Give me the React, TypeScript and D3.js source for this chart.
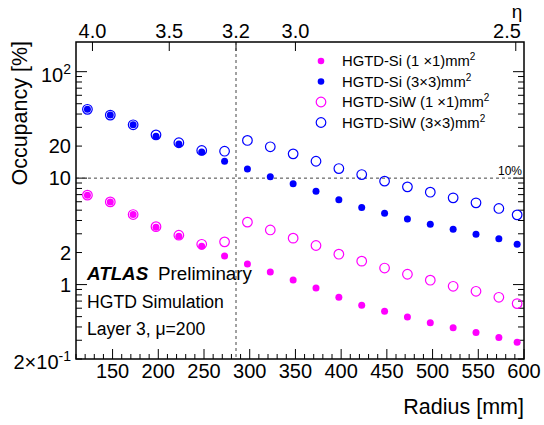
import React, { useEffect, useRef } from 'react';
import * as d3 from 'd3';

// bin centres in radius [mm]
const radius = [122.5, 147.5, 172.5, 197.5, 222.5, 247.5, 272.5, 297.5, 322.5, 347.5,
  372.5, 397.5, 422.5, 447.5, 472.5, 497.5, 522.5, 547.5, 572.5, 592.5];

// occupancy [%]
const si1x1 = [6.92, 5.98, 4.55, 3.46, 2.85, 2.29, 1.86, 1.56, 1.31, 1.105,
  0.929, 0.76, 0.639, 0.561, 0.496, 0.439, 0.394, 0.354, 0.319, 0.287];
const si3x3 = [44.3, 39.1, 31.7, 24.8, 20.9, 17.6, 14.4, 12.2, 10.3, 8.84,
  7.54, 6.25, 5.3, 4.69, 4.14, 3.69, 3.31, 2.97, 2.69, 2.39];
const siw1x1 = [6.92, 5.98, 4.55, 3.5, 2.91, 2.39, 2.52, 3.86, 3.26, 2.73,
  2.33, 1.93, 1.66, 1.43, 1.25, 1.1, 0.964, 0.865, 0.76, 0.663];
const siw3x3 = [44.3, 39.1, 31.7, 25.5, 21.5, 18.2, 17.9, 22.6, 19.7, 16.9,
  14.4, 12.3, 10.8, 9.37, 8.28, 7.38, 6.53, 5.86, 5.19, 4.52];

const seriesNames = ['HGTD-Si (1 ×1)mm', 'HGTD-Si (3×3)mm', 'HGTD-SiW (1 ×1)mm', 'HGTD-SiW (3×3)mm'];
const seriesColors = ['#ff00ff', '#0000ff', '#ff00ff', '#0000ff'];
const seriesFilled = [true, true, false, false];

const xLabelValues = [150, 200, 250, 300, 350, 400, 450, 500, 550, 600];
const yLabelValues = [0.2, 1, 2, 10, 20, 100];
const yLabelBase = ['2×10', '1', '2', '10', '20', '10'];
const yLabelSup = ['-1', '', '', '', '', '2'];
const etaLabels = ['4.0', '3.5', '3.2', '3.0', '2.5'];
const etaRadius = [128, 212, 285, 350, 591];

const FONT = '"Liberation Sans", Arial, Helvetica, sans-serif';

export default function App() {
  const ref = useRef<SVGSVGElement>(null);

  useEffect(() => {
    document.body.style.margin = '0';
    const width = 544, height = 425;
    const m = { top: 42, right: 20, bottom: 66, left: 76 };
    const svg = d3.select(ref.current);
    svg.selectAll('*').remove();

    const x = d3.scaleLinear().domain([110, 600]).range([m.left, width - m.right]);
    const y = d3.scaleLog().domain([0.2, 190]).range([height - m.bottom, m.top]);
    const x0 = m.left, x1 = width - m.right, y0 = height - m.bottom, y1 = m.top;

    const g = svg.append('g').attr('font-family', FONT);

    // bottom ticks, every 10 mm
    const xt = d3.range(110, 601, 10);
    g.selectAll('.xt').data(xt).enter().append('line')
      .attr('x1', d => x(d)).attr('x2', d => x(d))
      .attr('y1', y0).attr('y2', d => y0 - (d % 50 === 0 ? 10 : 5))
      .attr('stroke', '#000');
    g.selectAll('.xl').data(xLabelValues).enter().append('text')
      .attr('x', d => x(d)).attr('y', 378)
      .attr('text-anchor', 'middle').style('font-size', '20px')
      .text(d => d);

    // left / right log ticks
    const yt = y.ticks();
    const isMajor = (d: number) => Math.abs(Math.log10(d) - Math.round(Math.log10(d))) < 1e-6;
    g.selectAll('.yl').data(yt).enter().append('line')
      .attr('x1', x0).attr('x2', d => x0 + (isMajor(d) ? 11 : 6))
      .attr('y1', d => y(d)).attr('y2', d => y(d)).attr('stroke', '#000');
    g.selectAll('.yr').data(yt).enter().append('line')
      .attr('x1', x1).attr('x2', d => x1 - (isMajor(d) ? 11 : 6))
      .attr('y1', d => y(d)).attr('y2', d => y(d)).attr('stroke', '#000');
    const yl = g.selectAll('.ylab').data(yLabelValues).enter().append('text')
      .attr('x', 71).attr('y', (d, i) => y(d) + (yLabelSup[i] ? 10 : 7))
      .attr('text-anchor', 'end').style('font-size', '20px');
    yl.append('tspan').text((d, i) => yLabelBase[i]);
    yl.append('tspan').attr('dy', -8).style('font-size', '14px').text((d, i) => yLabelSup[i]);

    // top eta axis
    g.selectAll('.et').data(etaRadius).enter().append('line')
      .attr('x1', d => x(d)).attr('x2', d => x(d))
      .attr('y1', y1).attr('y2', y1 + 9).attr('stroke', '#000');
    g.selectAll('.el').data(etaRadius).enter().append('text')
      .attr('x', d => Math.min(x(d), x1 - 17)).attr('y', 38)
      .attr('text-anchor', 'middle').style('font-size', '20px')
      .text((d, i) => etaLabels[i]);
    g.append('text').attr('x', 517).attr('y', 18).attr('text-anchor', 'middle')
      .style('font-size', '19px').text('η');

    // reference lines
    g.append('line').attr('x1', x0).attr('x2', x1).attr('y1', y(10)).attr('y2', y(10))
      .attr('stroke', '#444').attr('stroke-dasharray', '3,3');
    g.append('line').attr('x1', x(285)).attr('x2', x(285)).attr('y1', y1).attr('y2', y0)
      .attr('stroke', '#444').attr('stroke-dasharray', '3,3');
    g.append('text').attr('x', x1 - 2).attr('y', y(10) - 3).attr('text-anchor', 'end')
      .style('font-size', '12px').text('10%');

    // frame
    g.append('rect').attr('x', x0).attr('y', y1).attr('width', x1 - x0).attr('height', y0 - y1)
      .attr('fill', 'none').attr('stroke', '#000').attr('stroke-width', 1.5);

    // data markers
    const series = [si1x1, si3x3, siw1x1, siw3x3];
    const order = [2, 3, 0, 1];
    order.forEach(k => {
      g.append('g').selectAll('circle').data(series[k]).enter().append('circle')
        .attr('cx', (d, i) => x(radius[i])).attr('cy', d => y(d))
        .attr('r', seriesFilled[k] ? 3.5 : 4.8)
        .attr('fill', seriesFilled[k] ? seriesColors[k] : 'none')
        .attr('stroke', seriesFilled[k] ? 'none' : seriesColors[k])
        .attr('stroke-width', 1.2);
    });

    // legend
    const leg = g.append('g').selectAll('g').data(seriesNames).enter().append('g')
      .attr('transform', (d, i) => 'translate(321,' + (61 + i * 20.5) + ')');
    leg.append('circle').attr('r', (d, i) => seriesFilled[i] ? 3.3 : 4.8)
      .attr('fill', (d, i) => seriesFilled[i] ? seriesColors[i] : 'none')
      .attr('stroke', (d, i) => seriesFilled[i] ? 'none' : seriesColors[i])
      .attr('stroke-width', 1.2);
    const lt = leg.append('text').attr('x', 21).attr('y', 5).style('font-size', '14.8px');
    lt.append('tspan').text(d => d);
    lt.append('tspan').attr('dy', -6).style('font-size', '10px').text('2');

    // ATLAS label
    const atl = g.append('text').attr('x', 87).attr('y', 280).style('font-size', '18.8px');
    atl.append('tspan').attr('font-weight', 'bold').attr('font-style', 'italic').text('ATLAS');
    atl.append('tspan').attr('x', 158).text('Preliminary');
    g.append('text').attr('x', 87).attr('y', 307.5).style('font-size', '17.6px').text('HGTD Simulation');
    g.append('text').attr('x', 87).attr('y', 335).style('font-size', '17.6px').text('Layer 3, μ=200');

    // axis titles
    g.append('text').attr('x', x1).attr('y', 414).attr('text-anchor', 'end')
      .style('font-size', '21.5px').text('Radius [mm]');
    g.append('text').attr('transform', 'translate(27,' + (y1 - 1) + ') rotate(-90)')
      .attr('text-anchor', 'end').style('font-size', '21.5px').text('Occupancy [%]');
  }, []);

  return <svg ref={ref} width={544} height={425} style={{ display: 'block' }} />;
}
